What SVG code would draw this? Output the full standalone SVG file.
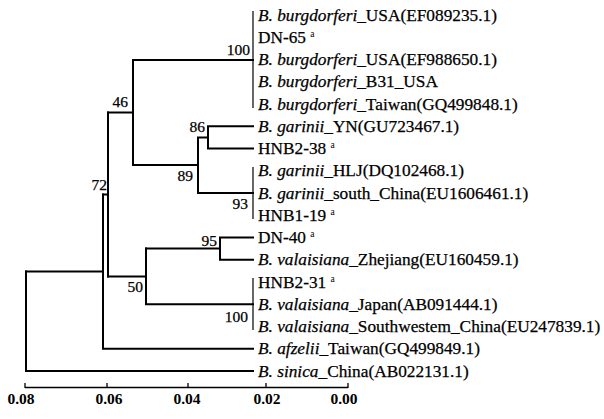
<svg xmlns="http://www.w3.org/2000/svg" width="604" height="419" viewBox="0 0 604 419">
<style>
.br{fill:none;stroke:#000;stroke-width:2;stroke-linecap:square}
.bar{fill:none;stroke:#000;stroke-width:1.2}
.lf{font-family:"Liberation Serif","Times New Roman",serif;font-size:17.3px;fill:#000;stroke:#000;stroke-width:0.25}
.sp{font-style:italic}
.sup{font-size:9.5px;stroke-width:0}
.bs{font-family:"Liberation Serif","Times New Roman",serif;font-size:15.5px;fill:#000;stroke:#000;stroke-width:0.25}
.ax{font-family:"Liberation Serif","Times New Roman",serif;font-size:15.5px;font-weight:bold;fill:#000;text-anchor:middle}
</style>
<rect width="604" height="419" fill="#fff"/>
<g id="connectors">
<path class="bar" d="M253,11V108"/>
<path class="br" d="M133,60H253"/>
<path class="br" d="M208,126.25V148.5M208,126.25H253M208,148.5H253"/>
<path class="bar" d="M253,167V219"/>
<path class="br" d="M198,137.4V193M198,137.4H208M198,193H253"/>
<path class="br" d="M133,60V165M133,165H198"/>
<path class="br" d="M108,112.5H133"/>
<path class="br" d="M220,237.5V259.75M220,237.5H253M220,259.75H253"/>
<path class="br" d="M146,248.6H220"/>
<path class="bar" d="M253,278V330"/>
<path class="br" d="M146,248.6V304.25M146,304.25H253"/>
<path class="br" d="M108,276.4H146"/>
<path class="br" d="M108,112.5V276.4M103,194.5H108"/>
<path class="br" d="M103,194.5V348.75M103,348.75H253"/>
<path class="br" d="M26,271.6H103"/>
<path class="br" d="M26,271.6V371M26,371H253"/>
</g>
<g id="bootstrap">
<text class="bs" x="250" y="55" text-anchor="end">100</text>
<text class="bs" x="128" y="107" text-anchor="end">46</text>
<text class="bs" x="205" y="132" text-anchor="end">86</text>
<text class="bs" x="193" y="181" text-anchor="end">89</text>
<text class="bs" x="107" y="190" text-anchor="end">72</text>
<text class="bs" x="248" y="209" text-anchor="end">93</text>
<text class="bs" x="217" y="246" text-anchor="end">95</text>
<text class="bs" x="143" y="292" text-anchor="end">50</text>
<text class="bs" x="248" y="322" text-anchor="end">100</text>
</g>
<g id="leaves">
<g id="leaf1"><text class="lf" x="258" y="20.5"><tspan class="sp">B. burgdorferi</tspan>_USA(EF089235.1)</text></g>
<g id="leaf2"><text class="lf" x="258" y="42.75">DN-65 <tspan class="sup" dy="-6">a</tspan></text></g>
<g id="leaf3"><text class="lf" x="258" y="65"><tspan class="sp">B. burgdorferi</tspan>_USA(EF988650.1)</text></g>
<g id="leaf4"><text class="lf" x="258" y="87.25"><tspan class="sp">B. burgdorferi</tspan>_B31_USA</text></g>
<g id="leaf5"><text class="lf" x="258" y="109.5"><tspan class="sp">B. burgdorferi</tspan>_Taiwan(GQ499848.1)</text></g>
<g id="leaf6"><text class="lf" x="258" y="131.75"><tspan class="sp">B. garinii</tspan>_YN(GU723467.1)</text></g>
<g id="leaf7"><text class="lf" x="258" y="154">HNB2-38 <tspan class="sup" dy="-6">a</tspan></text></g>
<g id="leaf8"><text class="lf" x="258" y="176.25"><tspan class="sp">B. garinii</tspan>_HLJ(DQ102468.1)</text></g>
<g id="leaf9"><text class="lf" x="258" y="198.5"><tspan class="sp">B. garinii</tspan>_south_China(EU1606461.1)</text></g>
<g id="leaf10"><text class="lf" x="258" y="220.75">HNB1-19 <tspan class="sup" dy="-6">a</tspan></text></g>
<g id="leaf11"><text class="lf" x="258" y="243">DN-40 <tspan class="sup" dy="-6">a</tspan></text></g>
<g id="leaf12"><text class="lf" x="258" y="265.25"><tspan class="sp">B. valaisiana</tspan>_Zhejiang(EU160459.1)</text></g>
<g id="leaf13"><text class="lf" x="258" y="287.5">HNB2-31 <tspan class="sup" dy="-6">a</tspan></text></g>
<g id="leaf14"><text class="lf" x="258" y="309.75"><tspan class="sp">B. valaisiana</tspan>_Japan(AB091444.1)</text></g>
<g id="leaf15"><text class="lf" x="258" y="332"><tspan class="sp">B. valaisiana</tspan>_Southwestem_China(EU247839.1)</text></g>
<g id="leaf16"><text class="lf" x="258" y="354.25"><tspan class="sp">B. afzelii</tspan>_Taiwan(GQ499849.1)</text></g>
<g id="leaf17"><text class="lf" x="258" y="376.5"><tspan class="sp">B. sinica</tspan>_China(AB022131.1)</text></g>
</g>
<g id="axis">
<path fill="none" stroke="#000" stroke-width="1.3" d="M25,387.5H348M25,383V388M107,383V388M188,383V388M266,383V388M348,383V388"/>
<text class="ax" x="21" y="404">0.08</text>
<text class="ax" x="109" y="404">0.06</text>
<text class="ax" x="187" y="404">0.04</text>
<text class="ax" x="267" y="404">0.02</text>
<text class="ax" x="344" y="404">0.00</text>
</g>
</svg>
